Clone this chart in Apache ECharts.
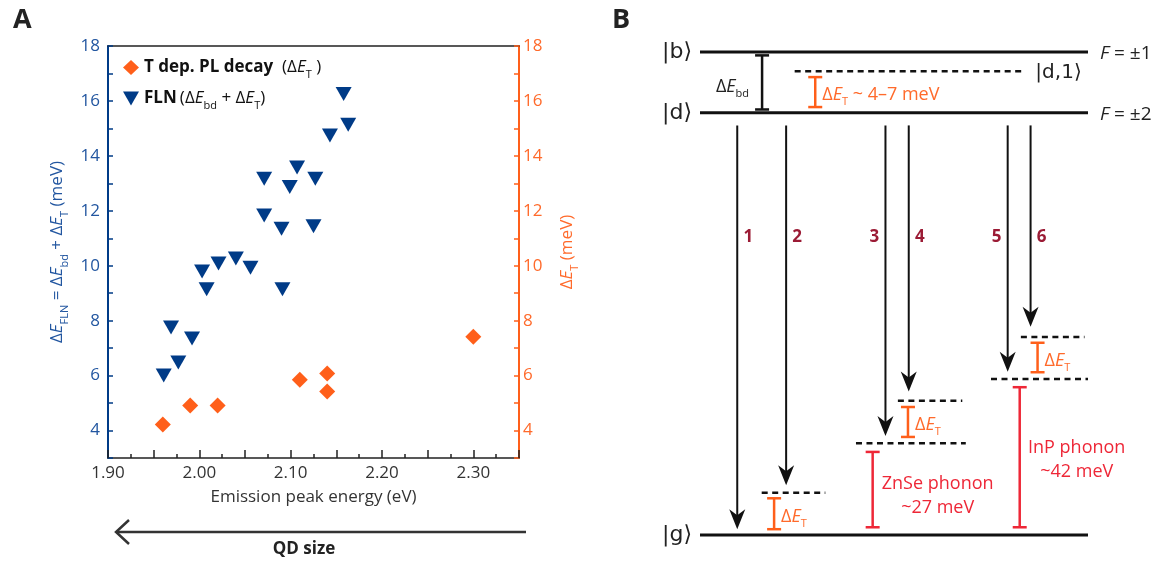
<!DOCTYPE html>
<html>
<head>
<meta charset="utf-8">
<script src="https://cdn.jsdelivr.net/npm/echarts@6/dist/echarts.min.js"></script>
<style>
  html, body { margin: 0; padding: 0; background: #fff; }
  #chart { width: 1159px; height: 562px; }
</style>
</head>
<body>
<div id="chart"></div>
<script>
// ---- panel A data ----
const flnEnergy = [1.961, 1.969, 1.977, 1.992, 2.003, 2.008, 2.021, 2.040, 2.056, 2.071,
                   2.071, 2.090, 2.091, 2.099, 2.107, 2.125, 2.127, 2.143, 2.158, 2.163];
const flnSplit = [6.0, 7.75, 6.48, 7.35, 9.79, 9.14, 10.08, 10.26, 9.93, 13.17,
                  11.83, 11.35, 9.14, 12.87, 13.58, 11.44, 13.17, 14.74, 16.25, 15.13];
const plEnergy = [1.960, 1.990, 2.020, 2.110, 2.140, 2.140, 2.300];
const plSplit = [4.22, 4.91, 4.91, 5.85, 6.08, 5.42, 7.41];

// ---- panel B (schematic, arbitrary energy units 0..100) ----
const levelNames = ['|b⟩', '|d⟩', '|g⟩'];
const levelEnergy = [100, 87.4, 0];
const levelSpin = ['{i|F} = ±1', '{i|F} = ±2', ''];
const dashedFrom = [24.4, 15.9, 40.2, 51.0, 75.0, 82.7];
const dashedTo = [83.6, 32.3, 68.5, 67.6, 100, 99.1];
const dashedEnergy = [96, 8.75, 19, 27.8, 32.3, 41];
const transitionX = [9.6, 22.2, 47.8, 53.8, 79.3, 85.2];
const transitionTo = [1.2, 10.3, 20.5, 29.7, 33.8, 43.1];
const transitionFrom = 84.8;
const transitionSide = [1, 1, -1, 1, -1, 1];
const bracketX = [16, 29.7, 19.1, 53.6, 87, 44.5, 82.4];
const bracketLow = [88.1, 88.6, 1.2, 20.3, 33.7, 1.6, 1.6];
const bracketHigh = [99.3, 94.8, 7.6, 26.5, 39.8, 17.2, 30.6];
const bracketKind = ['bd', 'T', 'T', 'T', 'T', 'ph', 'ph'];
const bracketText = ['{n|Δ}{i|E}{s|bd}', '{n|Δ}{i|E}{s|T}{n| ~ 4–7 meV}', '{n|Δ}{i|E}{s|T}',
                     '{n|Δ}{i|E}{s|T}', '{n|Δ}{i|E}{s|T}', 'ZnSe phonon\n~27 meV', 'InP phonon\n~42 meV'];

const BLUE = '#003b87', BLUE_TXT = '#2256a0', ORANGE = '#ff5f1a', ORANGE_TXT = '#ff6a2b';
const RED = '#ee2737', NUM_RED = '#9b1b35', INK = '#111';
const FONT = '"Open Sans", "DejaVu Sans", sans-serif';

function richSet(color, size) {
    return {
        n: { color: color, fontSize: size, fontFamily: FONT },
        i: { color: color, fontSize: size, fontStyle: 'italic', fontFamily: FONT },
        b: { color: color, fontSize: size, fontWeight: 'bold', fontFamily: FONT },
        s: { color: color, fontSize: Math.round(size * 0.62), fontFamily: FONT,
             verticalAlign: 'bottom', padding: [14, 0, 0, 0] }
    };
}
function zrRich(color, size) {
    const r = richSet(color, size);
    Object.keys(r).forEach(k => { r[k].fill = r[k].color; delete r[k].color; });
    return r;
}

const chart = echarts.init(document.getElementById('chart'));

const option = {
    animation: false,
    textStyle: { fontFamily: FONT },
    title: [
        { text: 'A', left: 8, top: 2, textStyle: { fontSize: 27, fontWeight: 'bold', color: '#222', fontFamily: FONT } },
        { text: 'B', left: 607, top: 2, textStyle: { fontSize: 27, fontWeight: 'bold', color: '#222', fontFamily: FONT } }
    ],
    grid: [
        { left: 108, right: 640, top: 46, bottom: 104 },
        { left: 700, right: 71, top: 52, bottom: 27 }
    ],
    legend: {
        left: 118, top: 54, orient: 'vertical', itemGap: 10,
        itemWidth: 16, itemHeight: 15,
        data: [
            { name: 'T dep. PL decay', icon: 'diamond' },
            { name: 'FLN', icon: 'path://M0,0 L16,0 L8,14 Z' }
        ],
        formatter: function (name) {
            return name === 'FLN'
                ? '{b|FLN} {n|(Δ}{i|E}{s|bd}{n| + Δ}{i|E}{s|T}{n|)}'
                : '{b|T dep. PL decay}{n|  (Δ}{i|E}{s|T}{n| )}';
        },
        textStyle: { rich: richSet('#111', 17) }
    },
    xAxis: [
        {
            type: 'value', gridIndex: 0, min: 1.9, max: 2.35, interval: 0.05,
            name: 'Emission peak energy (eV)', nameLocation: 'middle', nameGap: 31,
            nameTextStyle: { fontSize: 17, color: '#333' },
            axisLine: { lineStyle: { color: '#222', width: 1.5 } },
            axisTick: { inside: true, length: 8, lineStyle: { color: '#222', width: 1.5 } },
            minorTick: { show: true, splitNumber: 2, length: 4, lineStyle: { color: '#222', width: 1.5 } },
            splitLine: { show: false },
            axisLabel: {
                fontSize: 17, color: '#333', margin: 7,
                formatter: v => (Math.round(v * 100) % 10 === 0 ? v.toFixed(2) : '')
            }
        },
        {
            type: 'value', gridIndex: 0, position: 'top', min: 1.9, max: 2.35,
            axisLine: { lineStyle: { color: '#222', width: 1.5 } },
            axisTick: { show: false }, axisLabel: { show: false }, splitLine: { show: false }
        },
        { type: 'value', gridIndex: 1, min: 0, max: 100, show: false }
    ],
    yAxis: [
        {
            type: 'value', gridIndex: 0, position: 'left', min: 3, max: 18, interval: 1,
            name: '{n|Δ}{i|E}{s|FLN}{n| = Δ}{i|E}{s|bd}{n| + Δ}{i|E}{s|T}{n| (meV)}',
            nameLocation: 'middle', nameRotate: 90, nameGap: 38,
            nameTextStyle: { rich: richSet(BLUE_TXT, 17) },
            axisLine: { lineStyle: { color: BLUE, width: 2 } },
            axisTick: { inside: true, length: 5, lineStyle: { color: BLUE, width: 1.5 } },
            splitLine: { show: false },
            axisLabel: { fontSize: 17, color: BLUE_TXT, margin: 8,
                         formatter: v => (v % 2 === 0 ? String(v) : '') }
        },
        {
            type: 'value', gridIndex: 0, position: 'right', min: 3, max: 18, interval: 1,
            name: '{n|Δ}{i|E}{s|T}{n| (meV)}',
            nameLocation: 'middle', nameRotate: 90, nameGap: 36,
            nameTextStyle: { rich: richSet(ORANGE_TXT, 17) },
            axisLine: { lineStyle: { color: ORANGE, width: 2 } },
            axisTick: { inside: true, length: 5, lineStyle: { color: ORANGE, width: 1.5 } },
            splitLine: { show: false },
            axisLabel: { fontSize: 17, color: ORANGE_TXT, margin: 4,
                         formatter: v => (v % 2 === 0 ? String(v) : '') }
        },
        { type: 'value', gridIndex: 1, min: 0, max: 100, show: false }
    ],
    graphic: [
        // QD size arrow under panel A
        { type: 'line', shape: { x1: 526, y1: 532, x2: 117, y2: 532 },
          style: { stroke: '#333', lineWidth: 2.5 } },
        { type: 'polyline', shape: { points: [[129, 520], [116, 532], [129, 544]] },
          style: { stroke: '#333', lineWidth: 2.5, fill: null } },
        { type: 'text', x: 304, y: 549,
          style: { text: 'QD size', font: 'bold 17px ' + FONT, fill: '#222',
                   align: 'center', verticalAlign: 'middle' } }
    ],
    series: [
        {
            name: 'T dep. PL decay', type: 'scatter', xAxisIndex: 0, yAxisIndex: 1,
            symbol: 'diamond', symbolSize: 16,
            itemStyle: { color: ORANGE, opacity: 1 },
            data: plEnergy.map((x, i) => [x, plSplit[i]]),
            z: 3
        },
        {
            name: 'FLN', type: 'scatter', xAxisIndex: 0, yAxisIndex: 0,
            symbol: 'triangle', symbolRotate: 180, symbolSize: [16, 14],
            itemStyle: { color: BLUE, opacity: 1 },
            data: flnEnergy.map((x, i) => [x, flnSplit[i]]),
            z: 3
        },
        // ---- panel B: energy levels ----
        {
            type: 'custom', xAxisIndex: 2, yAxisIndex: 2, silent: true,
            data: levelEnergy.map(e => [0, e]),
            renderItem: function (params, api) {
                const i = params.dataIndex;
                const a = api.coord([0, api.value(1)]);
                const b = api.coord([100, api.value(1)]);
                return { type: 'group', children: [
                    { type: 'line', shape: { x1: a[0], y1: a[1], x2: b[0], y2: b[1] },
                      style: { stroke: INK, lineWidth: 3 } },
                    { type: 'text', x: a[0] - 8, y: a[1],
                      style: { text: levelNames[i], font: '22px "DejaVu Sans", sans-serif', fill: '#222',
                               align: 'right', verticalAlign: 'middle' } },
                    { type: 'text', x: b[0] + 12, y: b[1] + 2,
                      style: { text: levelSpin[i], rich: zrRich('#222', 19), fontSize: 19, fontFamily: FONT,
                               fill: '#222', align: 'left', verticalAlign: 'middle' } }
                ] };
            }
        },
        {
            type: 'custom', xAxisIndex: 2, yAxisIndex: 2, silent: true,
            data: dashedEnergy.map((e, i) => [dashedFrom[i], e, dashedTo[i]]),
            renderItem: function (params, api) {
                const a = api.coord([api.value(0), api.value(1)]);
                const b = api.coord([api.value(2), api.value(1)]);
                const children = [
                    { type: 'line', shape: { x1: a[0], y1: a[1], x2: b[0], y2: b[1] },
                      style: { stroke: INK, lineWidth: 2.5, lineDash: [6, 4.5] } }
                ];
                if (params.dataIndex === 0) {
                    children.push({ type: 'text', x: b[0] + 11, y: b[1] + 1,
                        style: { text: '|d,1⟩', font: '20px "DejaVu Sans", sans-serif', fill: '#222',
                                 align: 'left', verticalAlign: 'middle' } });
                }
                return { type: 'group', children: children };
            }
        },
        {
            type: 'custom', xAxisIndex: 2, yAxisIndex: 2, silent: true,
            data: transitionX.map((x, i) => [x, transitionTo[i]]),
            renderItem: function (params, api) {
                const i = params.dataIndex;
                const s = api.coord([api.value(0), transitionFrom]);
                const t = api.coord([api.value(0), api.value(1)]);
                const mid = api.coord([api.value(0), 61.6]);
                return { type: 'group', children: [
                    { type: 'line', shape: { x1: s[0], y1: s[1], x2: t[0], y2: t[1] - 12 },
                      style: { stroke: INK, lineWidth: 2 } },
                    { type: 'polygon', shape: { points: [[t[0], t[1]], [t[0] - 8, t[1] - 20],
                                                         [t[0], t[1] - 14], [t[0] + 8, t[1] - 20]] },
                      style: { fill: INK } },
                    { type: 'text', x: mid[0] + transitionSide[i] * 11, y: mid[1],
                      style: { text: String(i + 1), font: 'bold 17px ' + FONT, fill: NUM_RED,
                               align: 'center', verticalAlign: 'middle' } }
                ] };
            }
        },
        {
            type: 'custom', xAxisIndex: 2, yAxisIndex: 2, silent: true,
            data: bracketX.map((x, i) => [x, bracketLow[i], bracketHigh[i]]),
            renderItem: function (params, api) {
                const i = params.dataIndex;
                const kind = bracketKind[i];
                const color = kind === 'bd' ? INK : (kind === 'T' ? ORANGE : RED);
                const lo = api.coord([api.value(0), api.value(1)]);
                const hi = api.coord([api.value(0), api.value(2)]);
                const w = 7;
                const children = [
                    { type: 'line', shape: { x1: lo[0], y1: lo[1], x2: hi[0], y2: hi[1] },
                      style: { stroke: color, lineWidth: 2.5 } },
                    { type: 'line', shape: { x1: lo[0] - w, y1: lo[1], x2: lo[0] + w, y2: lo[1] },
                      style: { stroke: color, lineWidth: 2.5 } },
                    { type: 'line', shape: { x1: hi[0] - w, y1: hi[1], x2: hi[0] + w, y2: hi[1] },
                      style: { stroke: color, lineWidth: 2.5 } }
                ];
                const cy = (lo[1] + hi[1]) / 2;
                if (kind === 'bd') {
                    children.push({ type: 'text', x: lo[0] - 13, y: cy + 4,
                        style: { text: bracketText[i], rich: zrRich('#222', 18), fill: '#222',
                                 fontSize: 18, align: 'right', verticalAlign: 'middle' } });
                } else if (kind === 'T') {
                    children.push({ type: 'text', x: lo[0] + 7, y: cy + 3,
                        style: { text: bracketText[i], rich: zrRich(ORANGE_TXT, 18), fill: ORANGE_TXT,
                                 fontSize: 18, align: 'left', verticalAlign: 'middle' } });
                } else {
                    const tx = i === 5 ? lo[0] + 65 : lo[0] + 57;
                    const ty = api.coord([0, i === 5 ? 8.07 : 15.6])[1];
                    children.push({ type: 'text', x: tx, y: ty,
                        style: { text: bracketText[i], fill: RED, font: '18px ' + FONT,
                                 lineHeight: 24, align: 'center', verticalAlign: 'middle' } });
                }
                return { type: 'group', children: children };
            }
        }
    ]
};

chart.setOption(option);
</script>
</body>
</html>
